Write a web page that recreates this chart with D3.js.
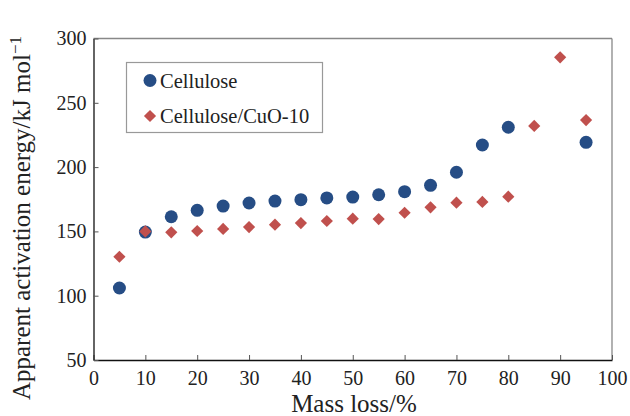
<!DOCTYPE html>
<html><head><meta charset="utf-8">
<script src="https://cdn.jsdelivr.net/npm/d3@7"></script>
<style>body{margin:0;background:#fff}svg{display:block}text{font-family:"Liberation Serif","Times New Roman",serif;fill:#222}</style>
</head><body><svg id="c" width="630" height="416"></svg>
<script>
const massLoss = [5,10,15,20,25,30,35,40,45,50,55,60,65,70,75,80,85,90,95];
const cellulose = [106,149.5,161.4,166.4,169.7,172.1,173.6,174.7,176,176.7,178.5,180.9,185.8,196,217.2,231,null,null,219.3];
const celluloseCuO = [130.3,150,149.3,150.3,151.9,153.4,155.2,156.5,158.1,159.9,159.6,164.5,168.7,172.3,172.9,177,232,285.4,236.6];
const xTicks = [0,10,20,30,40,50,60,70,80,90,100];
const yTicks = [50,100,150,200,250,300];
const seriesNames = ["Cellulose","Cellulose/CuO-10"];
const colors = ["#264d85","#c0504d"];

const svg = d3.select("#c");
const L=93.5,R=612,T=38.5,B=360;
const x = d3.scaleLinear().domain([0,100]).range([L,R]);
const y = d3.scaleLinear().domain([50,300]).range([B,T]);

svg.append("line").attr("x1",L).attr("x2",R).attr("y1",T).attr("y2",T).attr("stroke","#888").attr("stroke-width",1.3);
svg.append("line").attr("x1",R).attr("x2",R).attr("y1",T).attr("y2",B).attr("stroke","#888").attr("stroke-width",1.3);

const xa = svg.append("g").attr("transform",`translate(0,${B})`)
  .call(d3.axisBottom(x).tickValues(xTicks).tickSizeInner(-5).tickSizeOuter(0).tickPadding(11));
const ya = svg.append("g").attr("transform",`translate(${L},0)`)
  .call(d3.axisLeft(y).tickValues(yTicks).tickSizeInner(-5).tickSizeOuter(0).tickPadding(7));
[xa,ya].forEach(a=>{
  a.select(".domain").attr("stroke","#111").attr("stroke-width",1.3);
  a.selectAll(".tick line").attr("stroke","#555");
  a.selectAll("text").style("font-family","Liberation Serif, serif").style("font-size","20px").attr("fill","#222");
});

const blue = massLoss.map((m,i)=>({m,v:cellulose[i]})).filter(d=>d.v!=null);
const red = massLoss.map((m,i)=>({m,v:celluloseCuO[i]})).filter(d=>d.v!=null);
svg.append("g").selectAll("circle").data(blue).join("circle")
  .attr("cx",d=>x(d.m)).attr("cy",d=>y(d.v)).attr("r",6.5).attr("fill",colors[0]);
const dia = d3.symbol().type(d3.symbolDiamond2).size(95);
svg.append("g").selectAll("path").data(red).join("path")
  .attr("d",dia).attr("transform",d=>`translate(${x(d.m)},${y(d.v)})`).attr("fill",colors[1]);

const lg = svg.append("g");
lg.append("rect").attr("x",126.5).attr("y",62.5).attr("width",196).attr("height",70).attr("fill","#fff").attr("stroke","#999").attr("stroke-width",1.2);
lg.append("circle").attr("cx",150).attr("cy",80.5).attr("r",6.5).attr("fill",colors[0]);
lg.append("path").attr("d",dia).attr("transform","translate(150,116)").attr("fill",colors[1]);
lg.append("text").attr("x",160).attr("y",87.5).style("font-size","20.5px").text(seriesNames[0]);
lg.append("text").attr("x",160).attr("y",123).style("font-size","20.5px").text(seriesNames[1]);

svg.append("text").attr("x",354).attr("y",412).attr("text-anchor","middle").style("font-size","25px").text("Mass loss/%");
const yt = svg.append("text").attr("transform","translate(30,218) rotate(-90)").attr("text-anchor","middle").style("font-size","25px");
yt.append("tspan").text("Apparent activation energy/kJ mol");
yt.append("tspan").attr("dy",-9).style("font-size","17px").text("−1");
</script></body></html>
